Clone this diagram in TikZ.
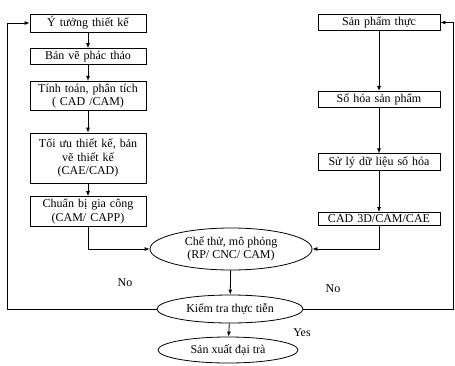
\documentclass[tikz,border=0pt]{standalone}
\usepackage{fontspec}
\setmainfont{Liberation Serif}
\usetikzlibrary{shapes.geometric,arrows.meta}

\begin{document}
\begin{tikzpicture}[x=1pt,y=1pt,line width=0.8pt,
  box/.style={draw,align=center,inner sep=2.5pt,font=\fontsize{12}{13.5}\selectfont},
  oval/.style={draw,ellipse,align=center,inner sep=0pt,font=\fontsize{12}{13.5}\selectfont},
  arr/.style={-{Latex[length=5pt,width=4pt]}},
  lbl/.style={font=\fontsize{12}{13.5}\selectfont}]
\useasboundingbox (0,0) rectangle (455,365);

% left column
\node[box,text width=111pt] (idea) at (88,342) {Ý tưởng thiết kế};
\node[box,text width=111pt] (sketch) at (88,308.5) {Bản vẽ phác thảo};
\node[box,text width=111pt] (calc) at (88,269) {Tính toán, phân tích\\( CAD /CAM)};
\node[box,text width=111pt,minimum height=50pt] (optim) at (88,207) {Tối ưu thiết kế, bản\\vẽ thiết kế\\(CAE/CAD)};
\node[box,text width=111pt] (prep) at (88,153.5) {Chuẩn bị gia công\\(CAM/ CAPP)};

% right column
\node[box,text width=117pt] (real) at (379,342.5) {Sản phẩm thực};
\node[box,text width=117pt] (digit) at (379,265.5) {Số hóa sản phẩm};
\node[box,text width=117pt] (process) at (379,203) {Sử lý dữ liệu số hóa};
\node[box,text width=117pt] (cad) at (379,146) {CAD 3D/CAM/CAE};

% ovals
\node[oval,minimum width=162pt,minimum height=42pt] (trial) at (231,116) {Chế thử, mô phỏng\\(RP/ CNC/ CAM)};
\node[oval,minimum width=146pt,minimum height=28pt] (check) at (230,56) {Kiểm tra thực tiễn};
\node[oval,minimum width=140pt,minimum height=26pt] (mass) at (228,15) {Sản xuất đại trà};

\node[lbl] (noleft) at (125,82) {No};
\node[lbl] (noright) at (333,76) {No};
\node[lbl] (yes) at (302,32) {Yes};

\draw[arr] (idea) -- (sketch);
\draw[arr] (sketch) -- (calc);
\draw[arr] (calc) -- (optim);
\draw[arr] (optim) -- (prep);
\draw[arr] (prep.south) |- (trial.west);

\draw[arr] (real) -- (digit);
\draw[arr] (digit) -- (process);
\draw[arr] (process) -- (cad);
\draw[arr] (cad.south) |- (trial.east);

\draw[arr] (trial) -- (check);
\draw[arr] (check) -- (mass);
\draw[arr] (check.west) -| ([xshift=-22pt]idea.west) -- (idea.west);
\draw[arr] (check.east) -| ([xshift=13pt]real.east) -- (real.east);

\end{tikzpicture}
\end{document}
